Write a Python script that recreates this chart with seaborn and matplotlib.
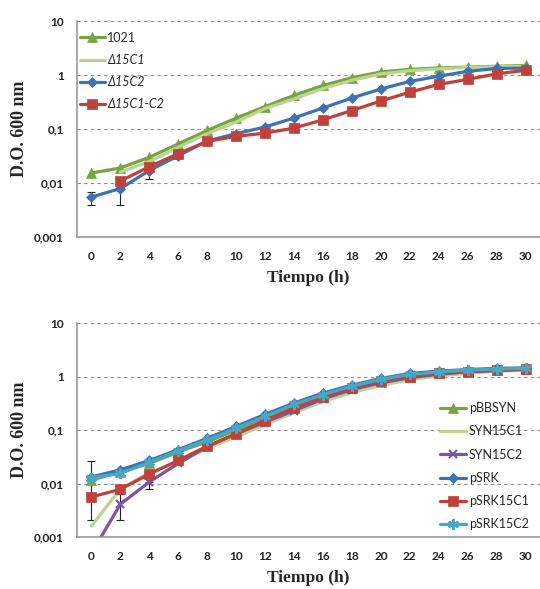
import numpy as np
import pandas as pd
import matplotlib
matplotlib.use("Agg")
import matplotlib.pyplot as plt
import seaborn as sns
from matplotlib.ticker import FixedLocator, FixedFormatter, NullFormatter

sns.set_style("white")
plt.rcParams['font.family'] = ['Lato', 'DejaVu Sans']

hours = [0, 2, 4, 6, 8, 10, 12, 14, 16, 18, 20, 22, 24, 26, 28, 30]
nan = np.nan

# ---- top panel ----
top_labels = ["1021", "Δ15C1", "Δ15C2", "Δ15C1-C2"]
od_1021 = [0.0153, 0.019, 0.030, 0.053, 0.094, 0.159, 0.26, 0.42, 0.64, 0.89, 1.14, 1.27, 1.35, 1.40, 1.45, 1.50]
od_d15c1 = [nan, 0.016, 0.025, 0.046, 0.082, 0.135, 0.24, 0.36, 0.56, 0.80, 1.05, 1.20, 1.30, 1.38, 1.42, 1.45]
od_d15c2 = [0.0055, 0.0079, 0.017, 0.032, 0.060, 0.082, 0.109, 0.16, 0.245, 0.375, 0.55, 0.76, 0.95, 1.17, 1.32, 1.34]
od_d15c1c2 = [nan, 0.0109, 0.020, 0.035, 0.059, 0.073, 0.084, 0.104, 0.148, 0.22, 0.33, 0.48, 0.67, 0.83, 1.05, 1.22]
top_series = [od_1021, od_d15c1, od_d15c2, od_d15c1c2]
top_colors = ["#7aa33f", "#b8d68f", "#3f72b5", "#c0403b"]
top_markers = ["^", None, "D", "s"]
top_msize = [7, 0, 5.5, 7]
# error bars (x, low, high)
top_err_x = [0, 2, 4]
top_err_lo = [0.0039, 0.0039, 0.012]
top_err_hi = [0.0068, 0.0085, 0.020]

# ---- bottom panel ----
bot_labels = ["pBBSYN", "SYN15C1", "SYN15C2", "pSRK", "pSRK15C1", "pSRK15C2"]
od_pbbsyn = [0.0116, 0.0165, 0.0237, 0.039, 0.060, 0.100, 0.16, 0.27, 0.42, 0.60, 0.80, 1.00, 1.17, 1.28, 1.35, 1.40]
od_syn15c1 = [0.0016, 0.0080, 0.016, 0.025, 0.045, 0.075, 0.125, 0.21, 0.34, 0.50, 0.68, 0.87, 1.02, 1.15, 1.25, 1.32]
od_syn15c2 = [0.0005, 0.0041, 0.0107, 0.0237, 0.049, 0.085, 0.14, 0.23, 0.38, 0.57, 0.76, 0.95, 1.10, 1.22, 1.30, 1.35]
od_psrk = [0.0133, 0.018, 0.027, 0.043, 0.070, 0.117, 0.196, 0.32, 0.49, 0.69, 0.92, 1.14, 1.26, 1.35, 1.42, 1.45]
od_psrk15c1 = [0.0056, 0.0078, 0.015, 0.027, 0.050, 0.085, 0.15, 0.26, 0.41, 0.61, 0.82, 1.00, 1.15, 1.22, 1.30, 1.38]
od_psrk15c2 = [0.0128, 0.0154, 0.025, 0.041, 0.065, 0.108, 0.18, 0.30, 0.46, 0.66, 0.88, 1.09, 1.22, 1.32, 1.38, 1.42]
bot_series = [od_pbbsyn, od_syn15c1, od_syn15c2, od_psrk, od_psrk15c1, od_psrk15c2]
bot_colors = ["#7aa33f", "#b8d68f", "#7a56a0", "#3f72b5", "#c0403b", "#45a9c4"]
bot_markers = ["^", None, "x", "D", "s", (6, 2, 0)]
bot_msize = [7, 0, 6, 5.5, 7, 8]
bot_err_x = [0, 2, 4]
bot_err_lo = [0.0021, 0.0021, 0.0080]
bot_err_hi = [0.026, 0.0065, 0.0105]

ytick_vals = [0.001, 0.01, 0.1, 1, 10]
ytick_labels = ["0,001", "0,01", "0,1", "1", "10"]

W, H = 540, 589
fig = plt.figure(figsize=(W / 100, H / 100), dpi=100)
ax_top = fig.add_axes([77 / W, 1 - 237 / H, 463 / W, 216 / H])
ax_bot = fig.add_axes([77 / W, 1 - 537 / H, 463 / W, 214 / H])

serif = ['Liberation Serif', 'DejaVu Serif']


def draw(ax, series, labels, colors, markers, msizes, ex, elo, ehi):
    for vals, lab, c, m, ms in zip(series, labels, colors, markers, msizes):
        df = pd.DataFrame({"t": hours, "od": vals}).dropna()
        kw = dict(color=c, linewidth=2.3, label=lab)
        if m is not None:
            thin = m == "x" or isinstance(m, tuple)
            kw.update(marker=m, markersize=ms, markeredgecolor=c, markerfacecolor=c,
                      markeredgewidth=1.5 if thin else 0.5)
        sns.lineplot(data=df, x="t", y="od", ax=ax, errorbar=None, legend=False, **kw)
    elo = np.array(elo)
    ehi = np.array(ehi)
    center = np.sqrt(elo * ehi)
    ax.errorbar(ex, center, yerr=[center - elo, ehi - center], fmt='none', ecolor='#222222',
                elinewidth=0.8, capsize=3, capthick=0.8, zorder=1)
    ax.set_yscale('log')
    ax.set_ylim(0.001, 10)
    ax.set_xlim(-1, 31)
    ax.yaxis.set_major_locator(FixedLocator(ytick_vals))
    ax.yaxis.set_major_formatter(FixedFormatter(ytick_labels))
    ax.yaxis.set_minor_locator(FixedLocator([]))
    ax.xaxis.set_major_locator(FixedLocator(hours))
    ax.xaxis.set_major_formatter(FixedFormatter([str(h) for h in hours]))
    ax.xaxis.set_minor_locator(FixedLocator(list(range(-1, 32, 2))))
    ax.xaxis.set_minor_formatter(NullFormatter())
    ax.tick_params(axis='x', which='major', length=0, pad=10)
    ax.tick_params(axis='x', which='minor', length=3.5, width=1, color='#999999', direction='out')
    ax.tick_params(axis='y', which='major', length=3.5, width=1, color='#999999', direction='out', pad=6)
    for lbl in ax.get_xticklabels() + ax.get_yticklabels():
        lbl.set_fontfamily(['Lato', 'DejaVu Sans'])
        lbl.set_fontweight('bold')
        lbl.set_fontsize(8.5)
        lbl.set_color('#222222')
    ax.grid(False)
    for yv in ytick_vals:
        ax.axhline(yv, color='#8c8c8c', linestyle=(0, (3, 3)), linewidth=0.8, zorder=0)
    for side in ['top', 'right']:
        ax.spines[side].set_visible(False)
    for side in ['left', 'bottom']:
        ax.spines[side].set_color('#999999')
        ax.spines[side].set_linewidth(1.2)
    ax.set_xlabel("Tiempo (h)", fontfamily=serif, fontweight='bold', fontsize=12.5, labelpad=5.5)
    ax.set_ylabel("D.O. 600 nm", fontfamily=serif, fontweight='bold', fontsize=13, labelpad=4.5)
    ax.patch.set_alpha(0)


draw(ax_top, top_series, top_labels, top_colors, top_markers, top_msize,
     top_err_x, top_err_lo, top_err_hi)
draw(ax_bot, bot_series, bot_labels, bot_colors, bot_markers, bot_msize,
     bot_err_x, bot_err_lo, bot_err_hi)

leg1 = ax_top.legend(loc='upper left', bbox_to_anchor=(0.006, 0.95), frameon=False,
                     borderpad=0, borderaxespad=0, handlelength=2.0, handletextpad=0.2,
                     labelspacing=0.81, prop=dict(family=['Lato', 'DejaVu Sans'], size=9))
for t in leg1.get_texts():
    if t.get_text().startswith("Δ"):
        t.set_style('italic')

leg2 = ax_bot.legend(loc='upper left', bbox_to_anchor=(0.784, 0.63), frameon=False,
                     borderpad=0, borderaxespad=0, handlelength=2.1, handletextpad=0.2,
                     labelspacing=0.9, prop=dict(family=['Lato', 'DejaVu Sans'], size=9))

fig.savefig("out.png", dpi=100)
